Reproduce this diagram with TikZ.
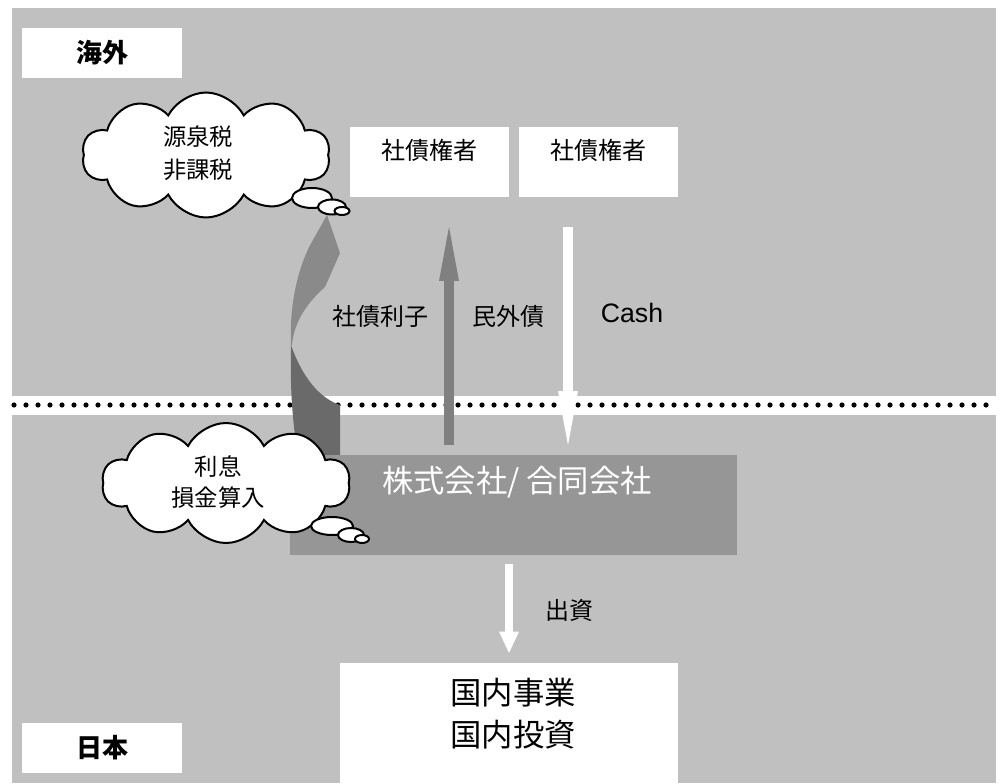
\documentclass[tikz,border=0pt]{standalone}
\usepackage{fontspec}
\setmainfont{Liberation Sans}
\newfontfamily\jp{Noto Sans CJK JP}
\usetikzlibrary{arrows.meta,shapes.symbols}
\definecolor{bg}{HTML}{C0C0C0}
\definecolor{corp}{HTML}{969696}
\definecolor{arrgray}{HTML}{808080}
\definecolor{curvelight}{HTML}{8A8A8A}
\definecolor{curvedark}{HTML}{6A6A6A}
\tikzset{
  whitebox/.style={rectangle, fill=white, draw=none, inner sep=0pt},
  lbl/.style={font=\jp\fontsize{18}{22}\selectfont, inner sep=0pt, align=center},
  biglbl/.style={font=\jp\fontsize{23.5}{31.5}\selectfont, inner sep=0pt, align=center},
  regionlbl/.style={font=\jp\bfseries\fontsize{19.5}{22}\selectfont},
  thought/.style={cloud, cloud puffs=10, cloud puff arc=125, cloud ignores aspect,
    fill=white, draw=black, line width=1.5pt, inner sep=0pt},
  bubble/.style={fill=white, draw=black, line width=1.5pt},
  blockarrow/.style={line width=7.5pt, draw=#1,
    -{Triangle[width=15pt,length=40.5pt,line width=0pt]}},
  smallarrow/.style={line width=6pt, draw=#1,
    -{Triangle[width=15pt,length=16pt,line width=0pt]}}
}
\begin{document}
\begin{tikzpicture}[x=0.75pt,y=-0.75pt]
\fill[white] (0,0) rectangle (1003,784);
\useasboundingbox (0,0) rectangle (1003,784);
% regions
\fill[bg] (12,8) rectangle (996,396);
\fill[bg] (12,415) rectangle (996,783);
% dotted border
\foreach \i in {0,...,81} \fill[black] (14+12*\i,405) circle (2.6);

% region labels
\node[whitebox, minimum width=120pt, minimum height=37.5pt, regionlbl] (abroad) at (102,53) {海外};
\node[whitebox, minimum width=120pt, minimum height=37.5pt, regionlbl] (japan) at (102,748) {日本};

% bond holders
\node[whitebox, minimum width=119.25pt, minimum height=52.5pt] (holderA) at (429.5,162) {};
\node[whitebox, minimum width=119.25pt, minimum height=52.5pt] (holderB) at (598.5,162) {};
\node[lbl] (holderAt) at (429.5,150) {社債権者};
\node[lbl] (holderBt) at (598.5,150) {社債権者};

% curved interest arrow
\fill[curvedark] (291,345) .. controls (305,385) and (325,400) .. (340,405)
  -- (340,456) -- (298,456) .. controls (292,420) and (290,385) .. (291,345) -- cycle;
\fill[curvelight] (291,345) .. controls (289,300) and (300,262) .. (313,240)
  -- (327,215) -- (340,253) -- (325,287)
  .. controls (310,300) and (294,320) .. (292,345) -- cycle;

% company
\node[rectangle, fill=corp, inner sep=0pt, minimum width=335.25pt, minimum height=75pt] (corp) at (513.5,505) {};
\node[biglbl, text=white] (corpt) at (517,482) {株式会社/ 合同会社};

% domestic business
\node[whitebox, minimum width=253.5pt, minimum height=90pt] (domestic) at (509,723) {};
\node[biglbl] (domestict) at (513,714) {国内事業\\国内投資};

% straight arrows
\coordinate (bondS) at (449,445);
\coordinate (bondE) at (449,227);
\coordinate (cashS) at (568,227);
\coordinate (cashE) at (568,445);
\coordinate (invS) at (509,564);
\coordinate (invE) at (509,653);
\draw[blockarrow=arrgray] (bondS) -- (bondE);
\draw[blockarrow=white] (cashS) -- (cashE);
\draw[smallarrow=white] (invS) -- (invE);

% arrow labels
\node[lbl] (interest) at (380,316) {社債利子};
\node[lbl] (bond) at (508,316) {民外債};
\node[font=\fontsize{20}{24}\selectfont, inner sep=0pt] (cash) at (632,313) {Cash};
\node[lbl] (invest) at (569,610) {出資};

% thought cloud 1
\node[thought, minimum width=186pt, minimum height=93.75pt] (cloudA) at (206,155) {};
\filldraw[bubble] (312,198) ellipse (20 and 10);
\filldraw[bubble] (332,207) ellipse (14 and 7.5);
\filldraw[bubble] (342,211) ellipse (7.5 and 4);
\node[font=\jp\fontsize{17.5}{24.75}\selectfont, align=center, inner sep=0pt] (cloudAt) at (198,153) {源泉税\\非課税};

% thought cloud 2
\node[thought, minimum width=186pt, minimum height=90pt] (cloudB) at (226,483) {};
\filldraw[bubble] (332,526) ellipse (21 and 9);
\filldraw[bubble] (351,535) ellipse (13 and 7);
\filldraw[bubble] (362,539) ellipse (7 and 4);
\node[font=\jp\fontsize{17.5}{23.25}\selectfont, align=center, inner sep=0pt] (cloudBt) at (218,482) {利息\\損金算入};
\end{tikzpicture}
\end{document}
